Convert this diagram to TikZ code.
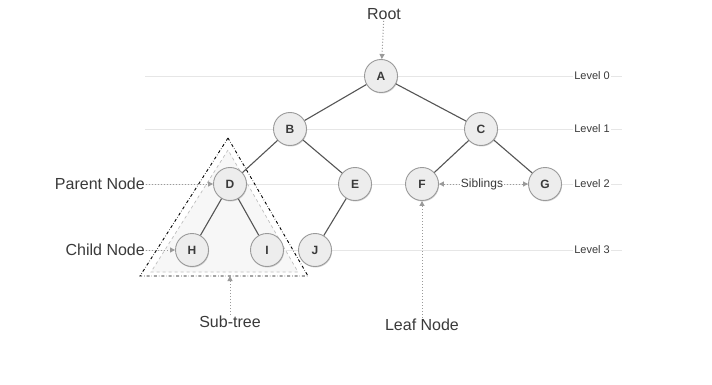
\documentclass[tikz,border=0pt]{standalone}
\usepackage{fontspec}
\setmainfont{Liberation Sans}
\usetikzlibrary{arrows.meta,shadows}
\definecolor{nodefill}{HTML}{EDEDED}
\definecolor{nodeline}{HTML}{9A9A9A}
\definecolor{edgecol}{HTML}{555555}
\definecolor{txt}{HTML}{3A3A3A}
\definecolor{lvl}{HTML}{E6E6E6}
\definecolor{dotcol}{HTML}{9A9A9A}
\tikzset{
  tnode/.style={circle,draw=nodeline,line width=0.9pt,fill=nodefill,minimum size=33pt,inner sep=0pt,
    font=\fontsize{12}{13}\selectfont\bfseries,text=txt,
    drop shadow={shadow xshift=0.6pt,shadow yshift=-1pt,fill=black!35,opacity=0.5}},
  edge/.style={draw=edgecol,line width=1.1pt},
  lvlline/.style={draw=lvl,line width=0.7pt},
  lvltext/.style={font=\fontsize{11}{12}\selectfont,text=txt,fill=white,inner sep=1pt},
  lbl/.style={font=\fontsize{16}{18}\selectfont,text=txt,inner sep=1pt},
  pointer/.style={draw=dotcol,line width=1pt,dotted,-{Triangle[length=5pt,width=5pt]}},
}
\begin{document}
\begin{tikzpicture}[x=1pt,y=-1pt]
\useasboundingbox[fill=white] (0,0) rectangle (712,385);
% level lines
\foreach \yy/\n in {76/0,129/1,184/2,250/3}{
  \draw[lvlline] (145,\yy) -- (622,\yy);
  \node[lvltext] (lv\n) at (592,\yy) {Level \n};
}
% subtree triangle
\fill[black!3] (228,150) -- (151,272) -- (298,272) -- cycle;
\draw[black!25,dashed,line width=0.7pt] (228,150) -- (151,272) -- (298,272) -- cycle;
\draw[black,dash dot,line width=0.9pt] (228,138) -- (140,276) -- (308,276) -- cycle;
\coordinate (tribase) at (230,276);
% nodes
\node[tnode] (A) at (381,76) {A};
\node[tnode] (B) at (290,129) {B};
\node[tnode] (C) at (481,129) {C};
\node[tnode] (D) at (230,184) {D};
\node[tnode] (E) at (355,184) {E};
\node[tnode] (F) at (422,184) {F};
\node[tnode] (G) at (545,184) {G};
\node[tnode] (H) at (192,250) {H};
\node[tnode] (I) at (267,250) {I};
\node[tnode] (J) at (315,250) {J};
% edges
\draw[edge] (A) -- (B);
\draw[edge] (A) -- (C);
\draw[edge] (B) -- (D);
\draw[edge] (B) -- (E);
\draw[edge] (C) -- (F);
\draw[edge] (C) -- (G);
\draw[edge] (D) -- (H);
\draw[edge] (D) -- (I);
\draw[edge] (E) -- (J);
% labels
\node[lbl] (root) at (384,14) {Root};
\node[lbl,anchor=east] (parent) at (146,184) {Parent Node};
\node[lbl,anchor=east] (child) at (146,250) {Child Node};
\node[lvltext,font=\fontsize{12}{14}\selectfont] (sib) at (482,184) {Siblings};
\node[lbl] (leaf) at (422,325) {Leaf Node};
\node[lbl] (sub) at (230,322) {Sub-tree};
% pointers
\draw[pointer] (root) -- (A);
\draw[pointer] (parent) -- (D);
\draw[pointer] (child) -- (H);
\draw[pointer] (sib) -- (F);
\draw[pointer] (sib) -- (G);
\draw[pointer] (leaf) -- (F);
\draw[pointer] (sub) -- (tribase);
\end{tikzpicture}
\end{document}
